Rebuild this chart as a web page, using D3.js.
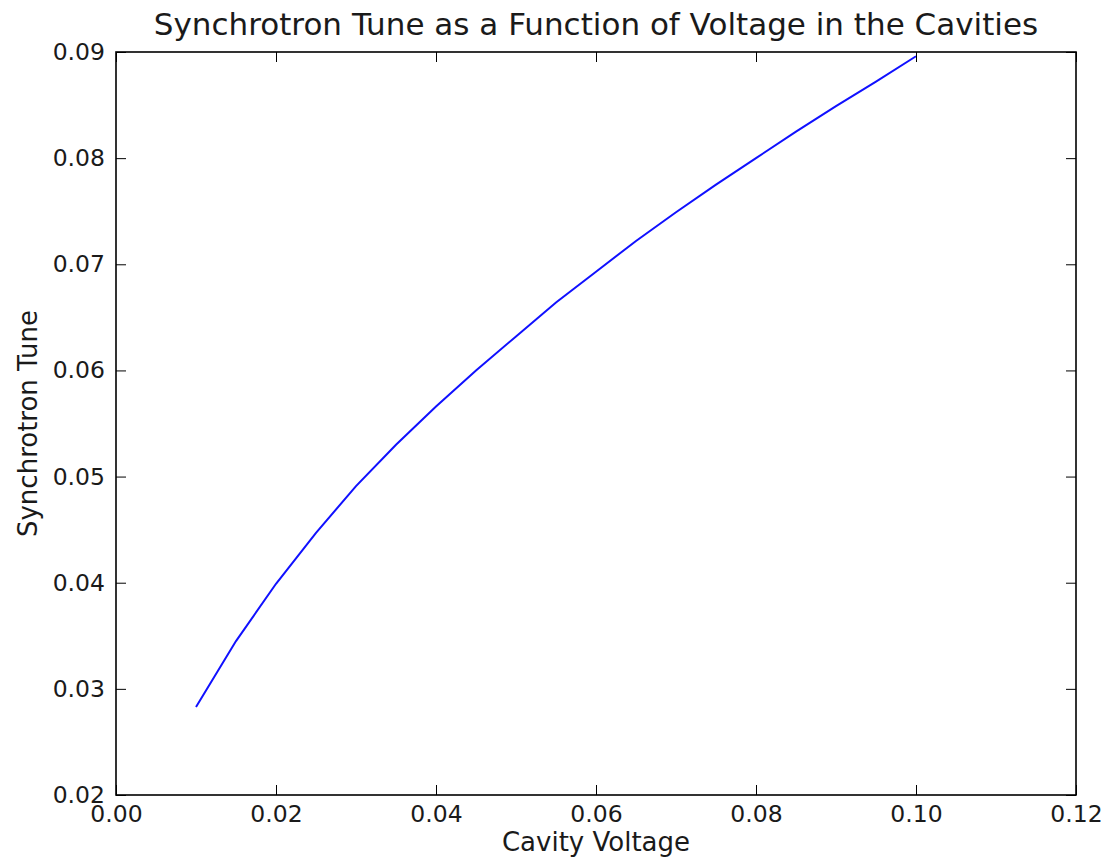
<!DOCTYPE html>
<html>
<head>
<meta charset="utf-8">
<script src="https://cdn.jsdelivr.net/npm/d3@7"></script>
<style>
  body { margin: 0; background: white; }
  svg { font-family: "DejaVu Sans", sans-serif; }
</style>
</head>
<body>
<svg></svg>
<script>
// Cavity voltage (x) and synchrotron tune (y)
const voltage = [0.010, 0.015, 0.020, 0.025, 0.030, 0.035, 0.040, 0.045, 0.050, 0.055,
                 0.060, 0.065, 0.070, 0.075, 0.080, 0.085, 0.090, 0.095, 0.100];
const tune = [0.0283, 0.0345, 0.0399, 0.0447, 0.0491, 0.0530, 0.0566, 0.0600, 0.0632, 0.0664,
              0.0693, 0.0722, 0.0749, 0.0775, 0.0800, 0.0825, 0.0849, 0.0872, 0.0896];
const xTicks = [0.00, 0.02, 0.04, 0.06, 0.08, 0.10, 0.12];
const yTicks = [0.02, 0.03, 0.04, 0.05, 0.06, 0.07, 0.08, 0.09];

const width = 1106;
const height = 857;
const margin = { top: 52, right: 30, bottom: 62, left: 116 };
const w = width - margin.left - margin.right;
const h = height - margin.top - margin.bottom;

const svg = d3.select('svg').attr('width', width).attr('height', height);
const g = svg.append('g').attr('transform', `translate(${margin.left},${margin.top})`);

const x = d3.scaleLinear().domain([0, 0.12]).range([0, w]);
const y = d3.scaleLinear().domain([0.02, 0.09]).range([h, 0]);

// the curve
const data = voltage.map((v, i) => ({ v, t: tune[i] }));
const line = d3.line().x(d => x(d.v)).y(d => y(d.t));
g.append('path')
  .datum(data)
  .attr('fill', 'none')
  .attr('stroke', '#1010ff')
  .attr('stroke-width', 2)
  .attr('d', line);

// axes with inward ticks on all four sides (matplotlib classic)
const fontSize = 23.5;
const tickLen = 10;
const fmt = d3.format('.2f');

const axBottom = g.append('g').attr('transform', `translate(0,${h})`)
  .call(d3.axisBottom(x).tickValues(xTicks).tickFormat(fmt).tickSizeInner(-tickLen).tickSizeOuter(0).tickPadding(10));
const axTop = g.append('g')
  .call(d3.axisTop(x).tickValues(xTicks).tickFormat('').tickSizeInner(-tickLen).tickSizeOuter(0));
const axLeft = g.append('g')
  .call(d3.axisLeft(y).tickValues(yTicks).tickFormat(fmt).tickSizeInner(-tickLen).tickSizeOuter(0).tickPadding(11));
const axRight = g.append('g').attr('transform', `translate(${w},0)`)
  .call(d3.axisRight(y).tickValues(yTicks).tickFormat('').tickSizeInner(-tickLen).tickSizeOuter(0));

[axBottom, axTop, axLeft, axRight].forEach(a => {
  a.select('.domain').remove();
  a.selectAll('.tick line').attr('stroke', '#000').attr('stroke-width', 1);
  a.selectAll('.tick text').attr('font-size', fontSize).attr('fill', '#1a1a1a')
    .attr('font-family', '"DejaVu Sans", sans-serif');
});

// frame
g.append('rect')
  .attr('width', w).attr('height', h)
  .attr('fill', 'none').attr('stroke', '#000').attr('stroke-width', 1.6);

// title and axis labels
svg.append('text')
  .attr('x', margin.left + w / 2).attr('y', 35)
  .attr('text-anchor', 'middle')
  .attr('font-size', 31).attr('fill', '#1a1a1a')
  .text('Synchrotron Tune as a Function of Voltage in the Cavities');

svg.append('text')
  .attr('x', margin.left + w / 2).attr('y', 851)
  .attr('text-anchor', 'middle')
  .attr('font-size', 26).attr('fill', '#1a1a1a')
  .text('Cavity Voltage');

svg.append('text')
  .attr('transform', `translate(37,${margin.top + h / 2}) rotate(-90)`)
  .attr('text-anchor', 'middle')
  .attr('font-size', 26).attr('fill', '#1a1a1a')
  .text('Synchrotron Tune');
</script>
</body>
</html>
